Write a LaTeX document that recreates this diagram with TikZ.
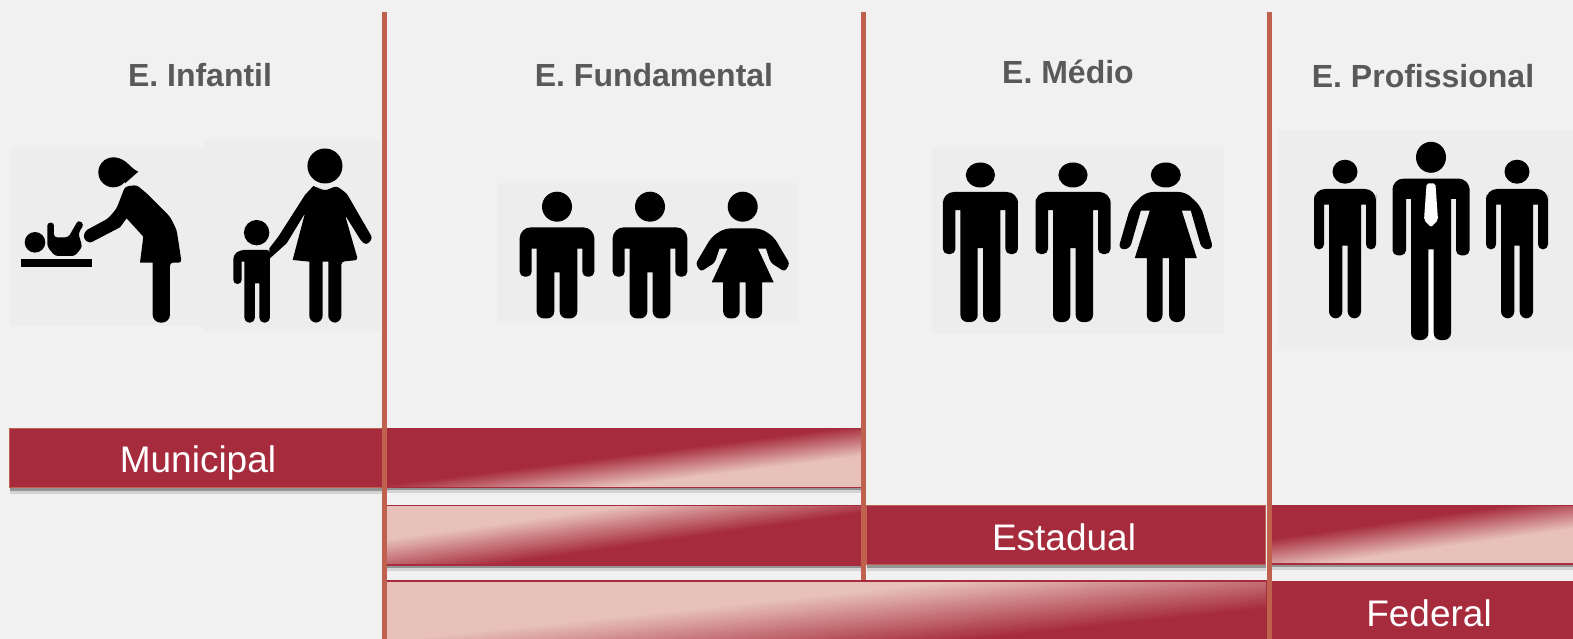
\documentclass[tikz,border=0pt]{standalone}
\usepackage{xcolor}
\usepackage{fontspec}
\setmainfont{Liberation Sans}
\usepackage{tikz}
\usetikzlibrary{shadows}
\definecolor{pagegray}{RGB}{241, 241, 241}
\definecolor{patchgray}{RGB}{237, 237, 237}
\definecolor{headgray}{RGB}{89, 89, 89}
\definecolor{barred}{RGB}{166, 43, 60}
\definecolor{barlight}{RGB}{232, 193, 186}
\definecolor{barline}{RGB}{192, 97, 79}

\tikzset{
    patch/.style={fill=patchgray},
    heading/.style={font=\fontsize{32}{36}\selectfont\bfseries, text=headgray},
    barlabel/.style={font=\fontsize{37}{40}\selectfont, text=white},
    levelbar/.style={fill=barred, inner sep=0pt, anchor=north west,
        drop shadow={shadow xshift=0pt, shadow yshift=-6pt, fill=black, opacity=.12},
        drop shadow={shadow xshift=0pt, shadow yshift=-3pt, fill=black, opacity=.3}},
    divider/.style={draw=barline, line width=5pt},
    pics/manfig/.style n args={9}{code={
        \fill (0,0) ellipse [x radius=#1pt, y radius=#2pt];
        \fill (0,#3) [rounded corners=11pt] -- (#8,#3) -- (#8,#4) [rounded corners=5pt] -- (#8,#6) -- (#9+5,#6)
            [sharp corners] -- (#9+5,#4) -- (#9,#4) [rounded corners=7pt] -- (#9,#7) -- (2.7,#7)
            [sharp corners] -- (2.7,#5) -- (-2.7,#5) [rounded corners=7pt] -- (-2.7,#7) -- (-#9,#7)
            [sharp corners] -- (-#9,#4) -- (-#9-5,#4) [rounded corners=5pt] -- (-#9-5,#6) -- (-#8,#6)
            [rounded corners=11pt] -- (-#8,#4) -- (-#8,#3) -- cycle;
    }},
    pics/girlfig/.style={code={
        \fill (0,0) circle (15pt);
        \fill (0,21.7) [rounded corners=6pt] -- (18,21.7) -- (31,30) [rounded corners=3pt] -- (47,57) -- (42,65)
            -- (28,56) [sharp corners] -- (23.3,42) -- (15.3,42) -- (31,75.7) -- (19.5,75.7) [rounded corners=7pt]
            -- (19.5,111.7) -- (3,111.7) [sharp corners] -- (3,75.7) -- (-3,75.7) [rounded corners=7pt]
            -- (-3,111.7) -- (-19.5,111.7) [sharp corners] -- (-19.5,75.7) -- (-31,75.7) -- (-15.3,42) -- (-23.3,42)
            [rounded corners=3pt] -- (-28,56) -- (-42,65) -- (-47,57) [rounded corners=6pt] -- (-31,30) -- (-18,21.7) -- cycle;
    }},
    pics/womanfig/.style={code={
        \fill (0,0) ellipse [x radius=15pt, y radius=12.5pt];
        \fill (0,17) [rounded corners=7pt] -- (20,17) -- (35.4,32) [rounded corners=3pt] -- (47,72) -- (42,75)
            -- (35.4,72) [sharp corners] -- (25,35.7) -- (16,35.7) -- (31,83) -- (19,83) [rounded corners=7pt]
            -- (19,147) -- (3.3,147) [sharp corners] -- (3.3,83) -- (-3.3,83) [rounded corners=7pt]
            -- (-3.3,147) -- (-19,147) [sharp corners] -- (-19,83) -- (-31,83) -- (-16,35.7) -- (-25,35.7)
            [rounded corners=3pt] -- (-35.4,72) -- (-42,75) -- (-47,72) [rounded corners=7pt] -- (-35.4,32) -- (-20,17) -- cycle;
    }}
}

\begin{document}
\begin{tikzpicture}[x=1pt, y=-1pt]
    \useasboundingbox (0,0) rectangle (1573,639);
    \clip (0,0) rectangle (1573,639);
    \fill[pagegray] (0,0) rectangle (1573,639);

    % Picture backgrounds
    \fill[patch] (10,148) rectangle (203,326);
    \fill[patch] (203,140) rectangle (381,331);
    \fill[patch] (497,183) rectangle (798,323);
    \fill[patch] (932,148) rectangle (1224,334);
    \fill[patch] (1278,130) rectangle (1573,348);

    % Headings
    \node[heading] (infantil) at (200,75) {E. Infantil};
    \node[heading] (fundamental) at (654,75) {E. Fundamental};
    \node[heading] (medio) at (1068,72) {E. Médio};
    \node[heading] (profissional) at (1423,76) {E. Profissional};

    % Woman changing a baby
    \begin{scope}[shift={(0,130)}, x=.3333pt, y=-.3333pt]
        \fill (340,127) circle (15pt);
        \fill (345,83) .. controls (380,85) and (390,115) .. (415,125) -- (375,160) -- cycle;
        \fill[rounded corners=3pt] (375,170) -- (410,165) -- (440,190) -- (510,260) -- (530,300) -- (545,398)
            -- (510,398) [rounded corners=8pt] -- (510,578) -- (458,578) [rounded corners=0pt] -- (458,398) -- (420,398) -- (430,320)
            -- (380,265) -- (360,292) [rounded corners=3pt] -- (268,340) -- (250,325) -- (255,303) -- (325,265) -- (350,235) -- cycle;
        \fill (105,337) circle (10.3pt);
        \fill[rounded corners=3pt] (142,278) -- (162,278) -- (162,322) -- (205,322) -- (235,270) -- (252,283)
            -- (235,310) -- (247,350) -- (225,378) -- (165,378) -- (142,350) -- cycle;
        \fill (62,388) rectangle (275,412);
    \end{scope}

    % Mother and child
    \begin{scope}[shift={(0,130)}, x=.3333pt, y=-.3333pt]
        \fill (975,108) circle (17.5pt);
        \fill[rounded corners=3pt] (940,168) -- (975,182) -- (1010,168) -- (1040,190) -- (1118,325) -- (1100,345) -- (1085,335)
            -- (1035,255) -- (1074,390) -- (1024,395) [rounded corners=7pt] -- (1024,578) -- (985,578) [rounded corners=0pt]
            -- (985,395) -- (968,395) [rounded corners=7pt] -- (968,578) -- (928,578) [rounded corners=0pt] -- (928,395)
            -- (878,390) -- (915,250) -- (860,340) -- (810,385) -- (808,355) -- (835,320) -- (915,195) -- cycle;
        \fill (770,308) circle (12.7pt);
        \fill[rounded corners=3pt] (720,360) -- (810,360) [rounded corners=5pt] -- (810,578) -- (778,578) [rounded corners=0pt] -- (778,460)
            -- (765,460) [rounded corners=5pt] -- (765,578) -- (733,578) [rounded corners=0pt] -- (733,395) -- (725,395)
            [rounded corners=4pt] -- (725,462) -- (700,462) -- (700,375) -- cycle;
    \end{scope}

    % E. Fundamental
    \foreach \px in {557,650} {
        \pic at (\px,206.7) {manfig={15}{15}{20.7}{42}{65.7}{70}{111.7}{37.3}{20.3}};
    }
    \pic at (742.7,206.7) {girlfig};

    % E. Medio
    \foreach \px in {980.4,1073} {
        \pic at (\px,175) {manfig={14.6}{12.5}{17}{35}{73}{79}{147}{37.5}{20}};
    }
    \pic at (1165.8,175) {womanfig};

    % E. Profissional
    \foreach \px in {1345,1517} {
        \pic at (\px,171.7) {manfig={12.5}{12}{17.3}{33}{74}{77.7}{146.7}{31}{16}};
    }
    \fill[white] (1428.5,240) rectangle (1433.5,340);
    \pic at (1431,157.3) {manfig={15}{15.5}{21.3}{41.7}{92}{98}{182.7}{38.5}{20}};
    \fill[white, rounded corners=2pt] (1426.6,183.3) -- (1435.4,183.3) -- (1438,220) -- (1431,227.3) -- (1424,220) -- cycle;

    % Bars with a label
    \node[levelbar, draw=barline, line width=1pt, minimum width=376pt, minimum height=59pt] (municipal) at (9,428) {};
    \node[barlabel] (municipaltext) at (198,463) {Municipal};
    \node[levelbar, draw=barline, line width=1pt, minimum width=399pt, minimum height=59pt] (estadual) at (866,505) {};
    \node[barlabel] (estadualtext) at (1064,537) {Estadual};
    \node[levelbar, minimum width=301pt, minimum height=58pt] (federal) at (1272,581) {};
    \node[barlabel] (federaltext) at (1429,613) {Federal};

    % Bars that fade
    \foreach \barname/\bx/\by/\bw/\bh/\cx/\cy/\barangle/\barspan/\upcolor/\downcolor in {
        fadeA/385/428.5/476/58.5/618/471/7.1/30/barred/barlight,
        fadeB/385/505.5/478/59/618/527/8/40/barlight/barred,
        fadeC/385/581/881/59/840/623/6/60/barlight/barred,
        fadeD/1269/505.5/304/58/1440/531/8/32/barred/barlight} {
        \node[levelbar, minimum width=\bw pt, minimum height=\bh pt] (\barname) at (\bx,\by) {};
        \begin{scope}
            \clip (\barname.north west) rectangle (\barname.south east);
            \fill[\upcolor] (\barname.north west) rectangle (\barname.south east);
            \foreach \k in {0,...,30} {
                \pgfmathsetmacro{\offs}{\barspan*(\k/30-.5)}
                \pgfmathtruncatemacro{\mixpct}{100-100*\k/30}
                \pgfmathsetmacro{\sx}{\cx+\offs*sin(\barangle)}
                \pgfmathsetmacro{\sy}{\cy+\offs*cos(\barangle)}
                \fill[\upcolor!\mixpct!\downcolor, shift={(\sx,\sy)}, rotate=\barangle]
                    (-1500,0) rectangle (1500,300);
            }
        \end{scope}
        \draw[barred, line width=1.2pt] (\barname.north west) rectangle (\barname.south east);
    }

    % Dividers
    \coordinate (topA) at (384.5,12);
    \coordinate (botA) at (384.5,639);
    \coordinate (topB) at (863.5,12);
    \coordinate (botB) at (863.5,580);
    \coordinate (topC) at (1269,12);
    \coordinate (botC) at (1269,639);
    \draw[divider] (topA) -- (botA);
    \draw[divider] (topB) -- (botB);
    \draw[divider] (topC) -- (botC);
\end{tikzpicture}
\end{document}
